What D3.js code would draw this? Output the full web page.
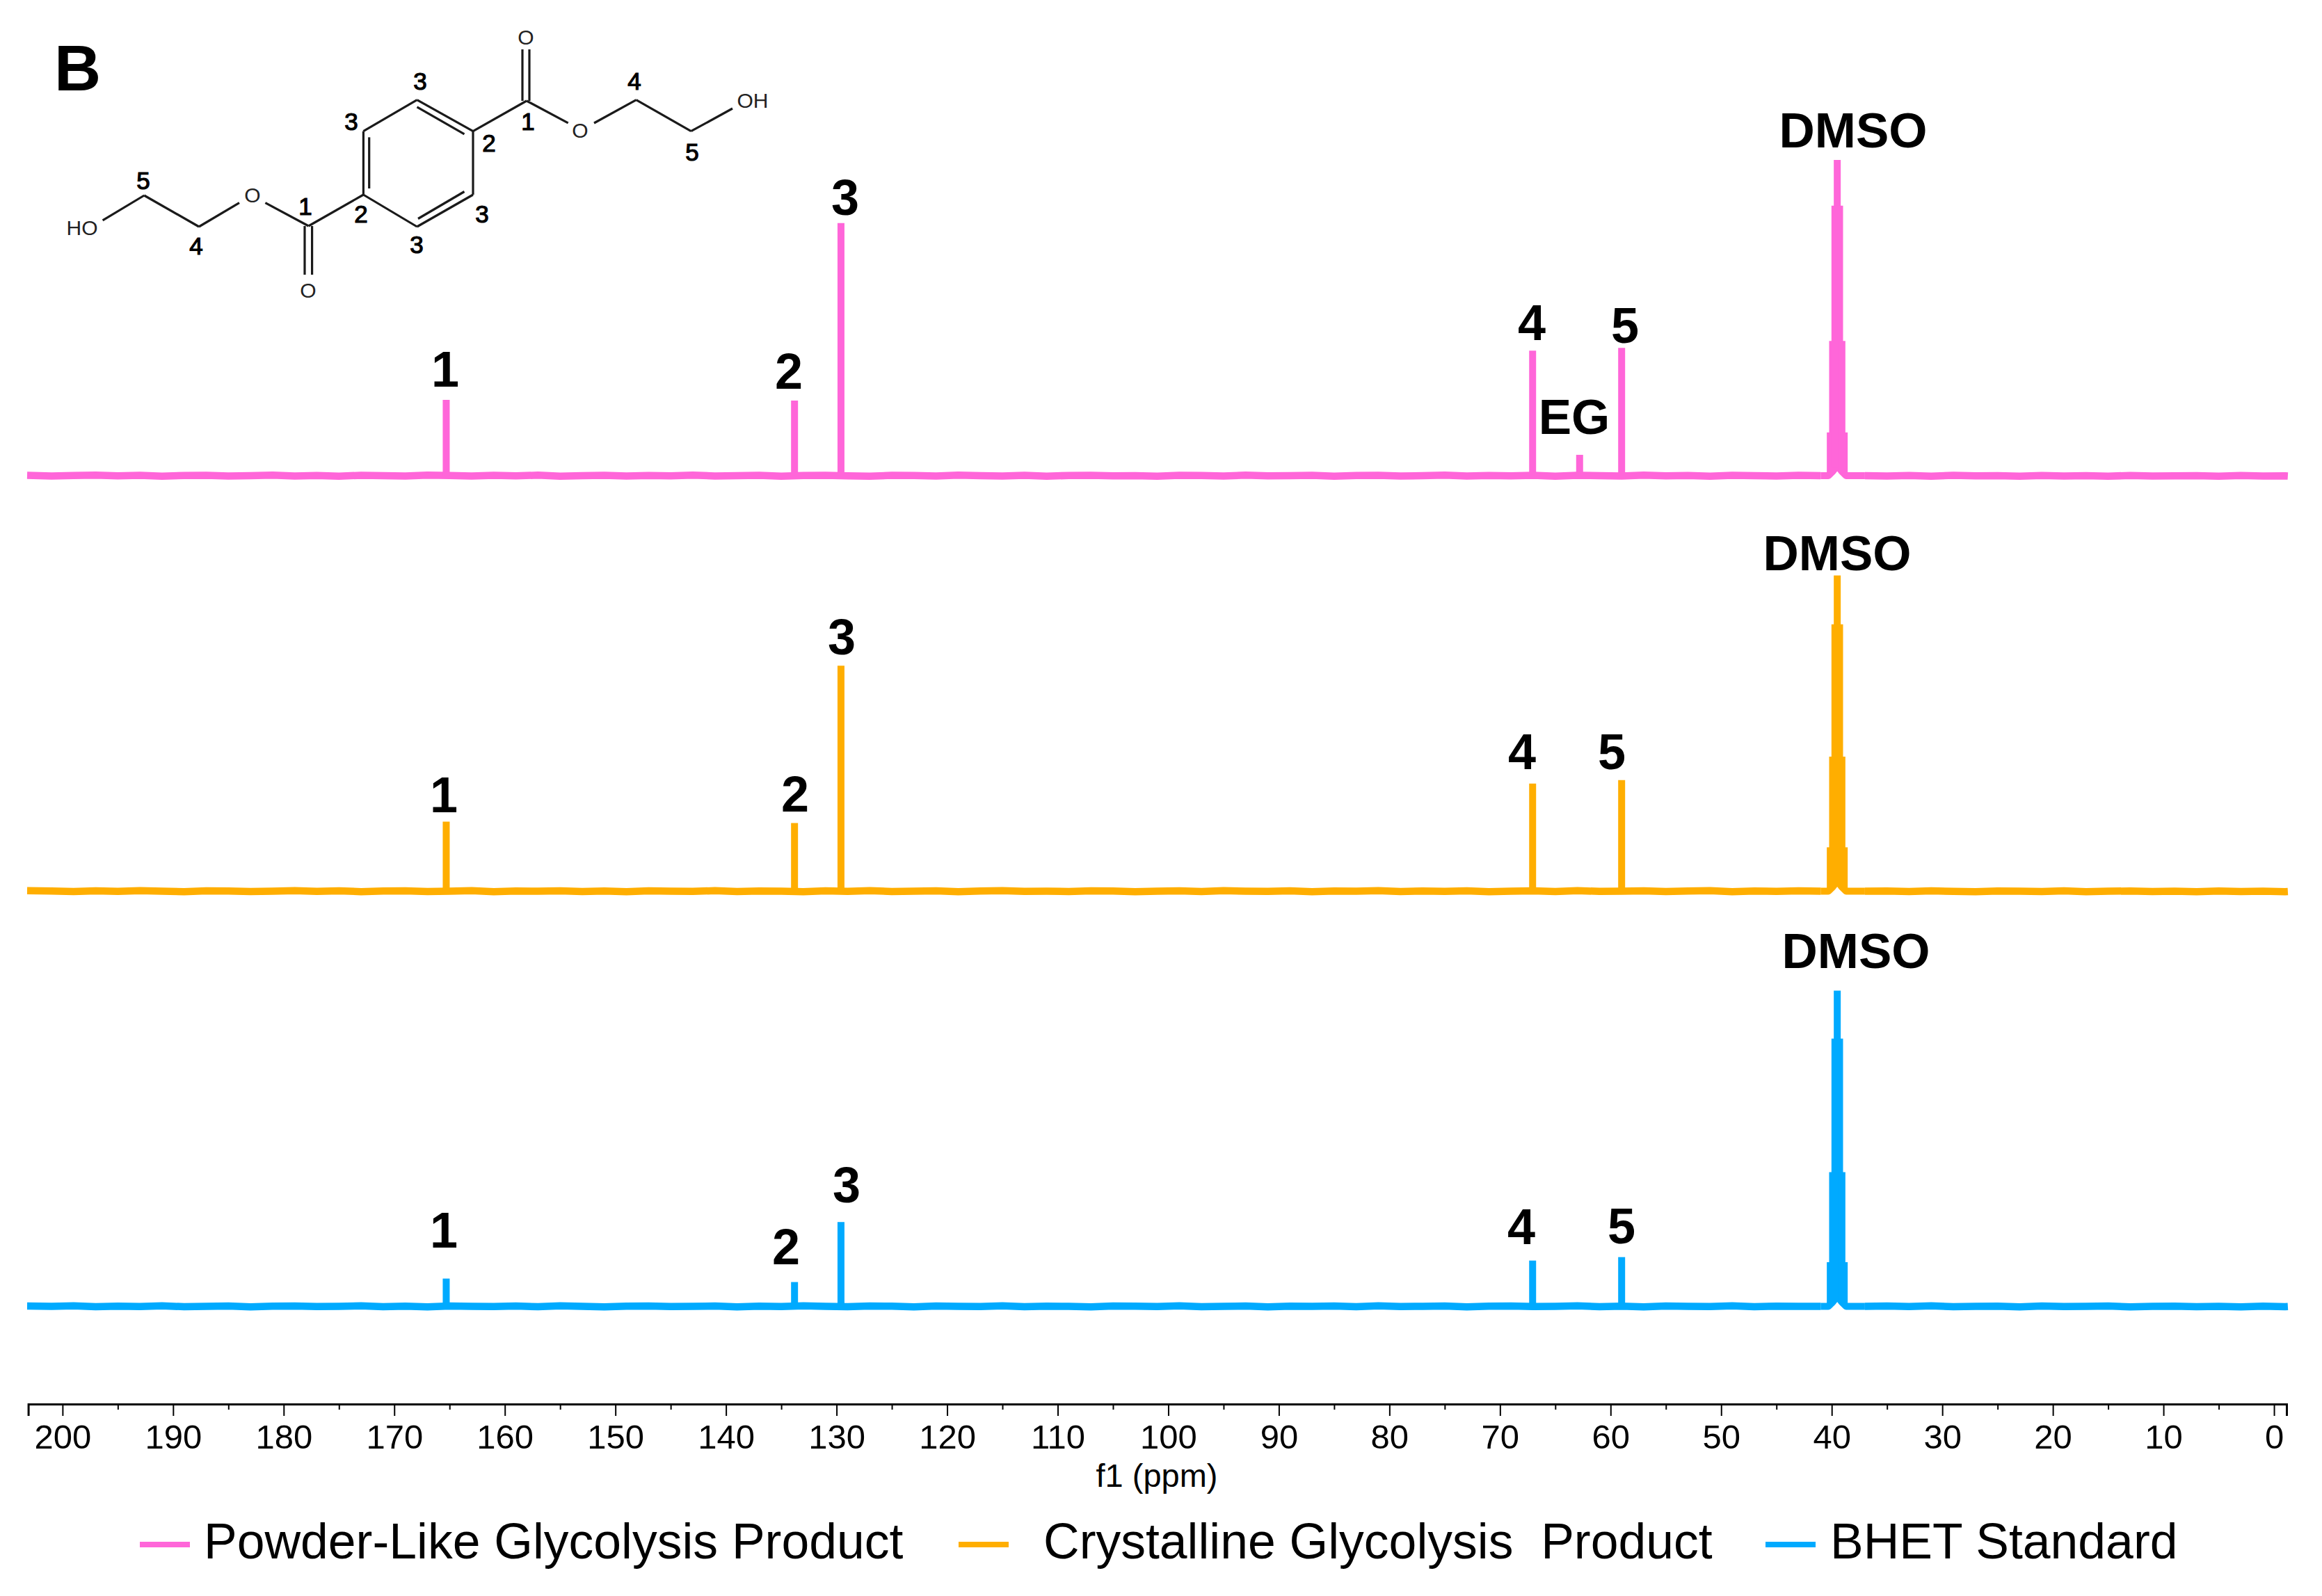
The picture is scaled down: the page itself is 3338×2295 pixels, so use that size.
<!DOCTYPE html>
<html>
<head>
<meta charset="utf-8">
<script src="https://cdn.jsdelivr.net/npm/d3@7"></script>
<style>
  html, body { margin: 0; padding: 0; background: #fff; }
  svg { display: block; }
  text { font-family: "Liberation Sans", Arial, sans-serif; fill: #000; white-space: pre; }
</style>
</head>
<body>
<svg></svg>
<script>
'use strict';

// chemical shifts and intensities (DMSO centre line = 100)
var peakNames = ['1', '2', '3', '4', '5'];
var peakPpm = [165.3, 133.8, 129.6, 67.05, 59.0];
var powderPeaks = [24.0, 23.8, 80.0, 39.6, 40.5];
var crystallinePeaks = [22.0, 21.6, 71.4, 34.1, 35.2];
var bhetPeaks = [8.8, 7.7, 26.7, 14.5, 15.6];

var egPpm = [62.8];
var egPeak = [6.6];

var dmsoPpm = [40.13, 39.92, 39.71, 39.50, 39.29, 39.08, 38.87];
var dmsoFloor = [0.2, 1.2, 2.6, 3.2, 2.6, 1.2, 0.2];
var powderDmso = [13.7, 42.7, 85.5, 100, 85.5, 42.7, 13.7];
var crystallineDmso = [13.9, 42.6, 84.5, 100, 84.5, 42.6, 13.9];
var bhetDmso = [14.0, 42.5, 84.8, 100, 84.8, 42.5, 14.0];

// small hump of the baseline under the DMSO septet
var humpPpm = [41, 40.3, 39.9, 39.5, 39.1, 38.7, 37];
var humpValues = [0, 0, 1.4, 3.2, 1.4, 0, 0];

// baseline wobble, same length as baselinePpm
var baselinePpm = [
    203.2, 201, 199, 197, 195, 193, 191, 189, 187, 185,
    183, 181, 179, 177, 175, 173, 171, 169, 167, 165,
    163, 161, 159, 157, 155, 153, 151, 149, 147, 145,
    143, 141, 139, 137, 135, 133, 131, 129, 127, 125,
    123, 121, 119, 117, 115, 113, 111, 109, 107, 105,
    103, 101, 99, 97, 95, 93, 91, 89, 87, 85,
    83, 81, 79, 77, 75, 73, 71, 69, 67, 65,
    63, 61, 59, 57, 55, 53, 51, 49, 47, 45,
    43, 41, 39, 37, 35, 33, 31, 29, 27, 25,
    23, 21, 19, 17, 15, 13, 11, 9, 7, 5,
    3, 1, -1, -1.25
];
var powderBase = [
    0.1, -0.1, 0.05, 0.15, -0.05, 0.1, -0.15, 0.05, 0.1, -0.1,
    0, 0.15, -0.1, 0.05, -0.15, 0.1, 0, -0.1, 0.15, 0.05,
    -0.1, 0.1, -0.05, 0.15, -0.15, 0, 0.1, -0.1, 0.05, -0.05,
    0.15, -0.1, 0, 0.1, -0.15, 0.05, 0.1, -0.05, -0.15, 0.1,
    0.05, -0.1, 0.15, 0, -0.1, 0.1, -0.15, 0.05, 0.1, -0.05,
    0, -0.15, 0.1, 0.05, -0.1, 0.15, -0.05, 0, 0.1, -0.15,
    0.05, 0.1, -0.1, 0, 0.15, -0.1, 0.05, -0.05, 0.1, -0.15,
    0.1, 0, -0.1, 0.15, -0.05, 0.05, -0.15, 0.1, 0, -0.1,
    0.1, 0, 0, 0, -0.1, 0.05, -0.15, 0.1, -0.05, 0,
    -0.15, 0.05, -0.1, 0, -0.15, 0.05, -0.1, -0.05, 0, -0.15,
    0.05, -0.1, -0.05, -0.1
];
var crystallineBase = [
    0.15, 0.05, -0.1, 0.1, -0.05, 0.15, 0, -0.15, 0.1, 0.05,
    -0.1, 0, 0.15, -0.05, 0.1, -0.15, 0.05, 0.1, -0.1, 0,
    0.15, -0.15, 0.05, 0, 0.1, -0.1, 0.05, -0.15, 0.1, 0,
    -0.05, 0.15, -0.1, 0.05, 0, -0.15, 0.1, -0.05, 0.15, -0.1,
    0, 0.1, -0.15, 0.05, 0.15, -0.05, 0, -0.1, 0.1, 0.05,
    -0.15, 0, 0.1, -0.1, 0.15, 0, -0.05, 0.1, -0.15, 0.05,
    0, 0.15, -0.1, 0.05, -0.05, 0.1, -0.15, 0, 0.1, -0.1,
    0.15, -0.05, 0, 0.1, -0.1, 0.05, 0.15, -0.15, 0.05, -0.05,
    0.1, 0, 0, 0, 0.05, -0.1, 0.1, -0.05, -0.15, 0.05,
    0, -0.1, 0.1, -0.15, 0, 0.05, -0.1, 0, -0.15, 0.05,
    -0.1, 0, -0.15, -0.1
];
var bhetBase = [
    0.1, 0, 0.15, -0.1, 0.05, -0.05, 0.15, -0.1, 0, 0.1,
    -0.15, 0.05, 0.1, -0.05, 0, 0.15, -0.1, 0.05, -0.15, 0.1,
    0, -0.05, 0.1, -0.1, 0.15, 0, -0.15, 0.05, 0.1, -0.05,
    0, 0.1, -0.15, 0.05, -0.05, 0.15, 0, -0.1, 0.1, 0.05,
    -0.15, 0.1, 0, -0.05, 0.15, -0.1, 0.05, 0, -0.15, 0.1,
    0.05, -0.05, 0.15, -0.1, 0, 0.1, -0.15, 0.05, 0, 0.1,
    -0.1, 0.15, -0.05, 0, 0.1, -0.15, 0.05, 0.1, -0.05, 0,
    0.15, -0.1, 0.05, -0.15, 0.1, 0, -0.05, 0.15, -0.1, 0.05,
    0, 0, 0, 0, 0.1, -0.05, 0.15, -0.1, 0, 0.05,
    -0.15, 0.1, -0.05, 0, 0.1, -0.15, 0, 0.05, -0.1, 0,
    -0.15, 0.05, -0.1, -0.05
];

var majorTicks = [200, 190, 180, 170, 160, 150, 140, 130, 120, 110, 100, 90, 80, 70, 60, 50, 40, 30, 20, 10, 0];
var minorTicks = [195, 185, 175, 165, 155, 145, 135, 125, 115, 105, 95, 85, 75, 65, 55, 45, 35, 25, 15, 5];

var seriesNames = ['Powder-Like Glycolysis Product', 'Crystalline Glycolysis  Product', 'BHET Standard'];
var seriesColors = ['#ff66d9', '#ffae00', '#00aaff'];

function render() {
    var w = 3338;
    var h = 2295;
    var svg = d3.select('svg').attr('width', w).attr('height', h);

    var x = d3.scaleLinear().domain([203.1, -1.13]).range([40.6, 3287]);
    var yHeight = 454;
    var baselines = [684, 1281.5, 1878.5];

    // label positions: centre x and text baseline y, per spectrum
    var peakLabelX = [[640, 1134, 1215, 2202, 2336], [638, 1143, 1210, 2188, 2317], [638, 1130, 1217, 2187, 2331]];
    var peakLabelY = [[556, 559, 309, 489, 493], [1168, 1167, 941, 1106, 1106], [1794, 1818, 1729, 1789, 1788]];
    var dmsoLabelX = [2664, 2641, 2668];
    var dmsoLabelY = [212, 820, 1392];

    var spectra = [
        { peaks: powderPeaks, dmso: powderDmso, base: powderBase },
        { peaks: crystallinePeaks, dmso: crystallineDmso, base: crystallineBase },
        { peaks: bhetPeaks, dmso: bhetDmso, base: bhetBase }
    ];

    spectra.forEach(function (s, i) {
        var y = d3.scaleLinear().domain([0, 100]).range([baselines[i], baselines[i] - yHeight]);
        var g = svg.append('g').attr('stroke', seriesColors[i]).attr('fill', 'none');

        var line = d3.line()
            .defined(function (d) { return d[0] > 40 || d[0] < 38; })
            .x(function (d) { return x(d[0]); })
            .y(function (d) { return y(d[1]); });

        g.append('path')
            .datum(d3.zip(baselinePpm, s.base))
            .attr('d', line)
            .attr('stroke-width', 10.5)
            .attr('stroke-linejoin', 'round');

        var humpLine = d3.line()
            .x(function (d) { return x(d[0]); })
            .y(function (d) { return y(d[1]); });

        g.append('path')
            .datum(d3.zip(humpPpm, humpValues))
            .attr('d', humpLine)
            .attr('stroke-width', 10)
            .attr('stroke-linejoin', 'round');

        var sticks = d3.zip(peakPpm, s.peaks).concat(i === 0 ? d3.zip(egPpm, egPeak) : []);

        g.append('g').selectAll('line').data(sticks).enter().append('line')
            .attr('x1', function (d) { return x(d[0]); })
            .attr('x2', function (d) { return x(d[0]); })
            .attr('y1', y(0))
            .attr('y2', function (d) { return y(d[1]); })
            .attr('stroke-width', 10);

        g.append('g').selectAll('line').data(d3.zip(dmsoPpm, s.dmso, dmsoFloor)).enter().append('line')
            .attr('x1', function (d) { return x(d[0]); })
            .attr('x2', function (d) { return x(d[0]); })
            .attr('y1', function (d) { return y(d[2]); })
            .attr('y2', function (d) { return y(d[1]); })
            .attr('stroke-width', 10);

        svg.append('g').selectAll('text').data(peakNames).enter().append('text')
            .attr('x', function (d, j) { return peakLabelX[i][j]; })
            .attr('y', function (d, j) { return peakLabelY[i][j]; })
            .attr('text-anchor', 'middle')
            .attr('font-size', 72)
            .attr('font-weight', 'bold')
            .text(function (d) { return d; });

        svg.append('text')
            .attr('x', dmsoLabelX[i])
            .attr('y', dmsoLabelY[i])
            .attr('text-anchor', 'middle')
            .attr('font-size', 71)
            .attr('font-weight', 'bold')
            .text('DMSO');
    });

    svg.append('text').attr('x', 2263).attr('y', 624)
        .attr('text-anchor', 'middle').attr('font-size', 71).attr('font-weight', 'bold').text('EG');

    // axis
    var axisY = 2019;
    var major = d3.axisBottom(x).tickValues(majorTicks).tickSize(17).tickPadding(12).tickFormat(d3.format('d'));
    var minor = d3.axisBottom(x).tickValues(minorTicks).tickSize(8).tickFormat('');

    var gMajor = svg.append('g').attr('transform', 'translate(0,' + axisY + ')').call(major);
    var gMinor = svg.append('g').attr('transform', 'translate(0,' + axisY + ')').call(minor);
    gMinor.select('.domain').remove();
    gMajor.select('.domain').attr('stroke', '#000').attr('stroke-width', 3);
    svg.selectAll('.tick line').attr('stroke', '#000').attr('stroke-width', 2);
    gMajor.selectAll('.tick text')
        .attr('font-size', 49)
        .attr('font-family', '"Liberation Sans", Arial, sans-serif');

    svg.append('text').attr('x', 1663).attr('y', 2138)
        .attr('text-anchor', 'middle').attr('font-size', 47).text('f1 (ppm)');

    // legend
    var legendSwatchX = [201, 1378, 2538];
    var legendTextX = [293, 1500, 2631];
    svg.append('g').selectAll('line').data(seriesNames).enter().append('line')
        .attr('x1', function (d, i) { return legendSwatchX[i]; })
        .attr('x2', function (d, i) { return legendSwatchX[i] + 72; })
        .attr('y1', 2221)
        .attr('y2', 2221)
        .attr('stroke', function (d, i) { return seriesColors[i]; })
        .attr('stroke-width', 8);
    svg.append('g').selectAll('text').data(seriesNames).enter().append('text')
        .attr('x', function (d, i) { return legendTextX[i]; })
        .attr('y', 2241)
        .attr('font-size', 71.5)
        .text(function (d) { return d; });

    svg.append('text').attr('x', 78).attr('y', 130)
        .attr('font-size', 93).attr('font-weight', 'bold').text('B');

    drawMolecule();

    function drawMolecule() {
        var bonds = [
            [599.5, 143.7, 680, 188.7], [680, 188.7, 680, 280], [680, 280, 599.5, 326],
            [599.5, 326, 522.4, 280], [522.4, 280, 522.4, 188.7], [522.4, 188.7, 599.5, 143.7],
            [599.5, 153.8, 667.5, 192.8], [530.7, 197.4, 530.7, 271], [601, 314.5, 667.5, 275.5],
            [680, 188.7, 757, 145], [751, 145, 751, 71], [761, 145, 761, 71],
            [757, 145, 816.7, 176.8], [854, 177, 914.6, 143.7], [914.6, 143.7, 993.4, 188.7], [993.4, 188.7, 1053, 156],
            [522.4, 280, 443.6, 325], [438, 325, 438, 395], [448.6, 325, 448.6, 395],
            [443.6, 325, 381.4, 291.6], [344, 291.6, 286, 326], [286, 326, 207.3, 281], [207.3, 281, 147.6, 316.8]
        ];
        svg.append('g').selectAll('line').data(bonds).enter().append('line')
            .attr('x1', function (d) { return d[0]; })
            .attr('y1', function (d) { return d[1]; })
            .attr('x2', function (d) { return d[2]; })
            .attr('y2', function (d) { return d[3]; })
            .attr('stroke', '#1a1a1a')
            .attr('stroke-width', 3.2);

        var atoms = [['O', 756, 53], ['O', 834, 187], ['OH', 1082, 144], ['O', 443, 417], ['O', 363, 280], ['HO', 118, 327]];
        svg.append('g').selectAll('text').data(atoms).enter().append('text')
            .attr('x', function (d) { return d[1]; })
            .attr('y', function (d) { return d[2]; })
            .attr('dy', '.36em')
            .attr('text-anchor', 'middle')
            .attr('font-size', 30)
            .style('fill', '#222')
            .text(function (d) { return d[0]; });

        var numbers = [
            ['3', 604, 116], ['3', 505, 174], ['2', 703, 205], ['1', 759, 174], ['4', 912, 116], ['5', 995, 218],
            ['5', 206, 259], ['1', 439, 296], ['2', 519, 307], ['3', 693, 307], ['3', 599, 351], ['4', 282, 353]
        ];
        svg.append('g').selectAll('text').data(numbers).enter().append('text')
            .attr('x', function (d) { return d[1]; })
            .attr('y', function (d) { return d[2]; })
            .attr('dy', '.36em')
            .attr('text-anchor', 'middle')
            .attr('font-size', 35)
            .attr('stroke', '#000')
            .attr('stroke-width', 1.2)
            .text(function (d) { return d[0]; });
    }
}

render();
</script>
</body>
</html>
